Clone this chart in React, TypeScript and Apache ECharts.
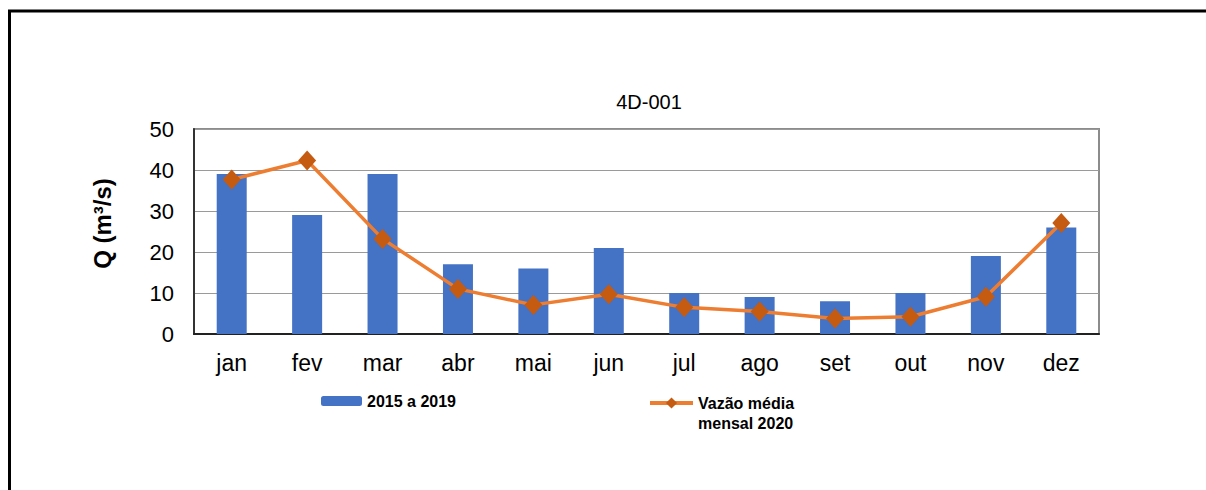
import React, { useEffect, useRef } from "react";
import * as echarts from "echarts";

const months = ["jan", "fev", "mar", "abr", "mai", "jun", "jul", "ago", "set", "out", "nov", "dez"];
const hist20152019 = [39, 29, 39, 17, 16, 21, 10, 9, 8, 10, 19, 26];
const media2020 = [37.7, 42.3, 23.2, 11.0, 7.1, 9.7, 6.5, 5.5, 3.8, 4.2, 9.1, 27.1];
const yTicks = { min: 0, max: 50, interval: 10 };
const barName = "2015 a 2019";
const lineName = "Vazão média\nmensal 2020";

export default function App() {
  const ref = useRef<HTMLDivElement>(null);
  useEffect(() => {
    if (!ref.current) return;
    const chart = echarts.init(ref.current, null, { renderer: "svg" });
    const font = "'Liberation Sans', Arial, sans-serif";
    chart.setOption({
      animation: false,
      backgroundColor: "#ffffff",
      textStyle: { fontFamily: font },
      title: {
        text: "4D-001",
        left: 644,
        top: 87,
        textAlign: "center",
        textStyle: { fontSize: 20, fontWeight: "normal", color: "#000", fontFamily: font },
      },
      grid: {
        left: 194,
        right: 107,
        top: 129,
        bottom: 156,
        show: true,
        borderColor: "#8c8c8c",
        borderWidth: 2,
        containLabel: false,
      },
      legend: [
        {
          data: [barName],
          left: 321,
          top: 393,
          padding: 0,
          itemWidth: 41,
          itemHeight: 10,
          itemGap: 0,
          textStyle: { fontSize: 16, fontWeight: "bold", color: "#000", fontFamily: font },
        },
        {
          data: [lineName],
          left: 648,
          top: 373,
          padding: 0,
          itemWidth: 43,
          itemHeight: 14,
          itemGap: 0,
          lineStyle: { width: 4, color: "#ED7D31" },
          formatter: (name: string) => " \n" + name,
          textStyle: {
            fontSize: 16,
            lineHeight: 20,
            fontWeight: "bold",
            color: "#000",
            fontFamily: font,
          },
        },
      ],
      xAxis: {
        type: "category",
        data: months,
        axisLine: { lineStyle: { color: "#222", width: 2 } },
        axisTick: { show: false },
        axisLabel: { fontSize: 23, color: "#000", margin: 17, fontFamily: font },
      },
      yAxis: {
        type: "value",
        min: yTicks.min,
        max: yTicks.max,
        interval: yTicks.interval,
        name: "Q (m³/s)",
        nameLocation: "middle",
        nameGap: 80,
        nameRotate: 90,
        nameTextStyle: {
          fontSize: 24,
          fontWeight: "bold",
          color: "#000",
          fontFamily: font,
          padding: [0, 0, 0, 16],
        },
        axisLine: { show: true, lineStyle: { color: "#333", width: 2 } },
        axisTick: { show: false },
        axisLabel: { fontSize: 22, color: "#000", margin: 20, fontFamily: font },
        splitLine: { lineStyle: { color: "#9a9a9a", width: 1 } },
      },
      series: [
        {
          name: barName,
          type: "bar",
          data: hist20152019,
          barWidth: 30,
          itemStyle: { color: "#4472C4" },
        },
        {
          name: lineName,
          type: "line",
          data: media2020,
          symbol: "diamond",
          symbolSize: [18, 20],
          lineStyle: { color: "#ED7D31", width: 3.5 },
          itemStyle: { color: "#C55A11" },
          z: 5,
        },
      ],
      graphic: [
        {
          type: "rect",
          shape: { x: 9.5, y: 11, width: 1300, height: 600 },
          style: { fill: "none", stroke: "#000", lineWidth: 3 },
          silent: true,
        },
      ],
    });
    return () => chart.dispose();
  }, []);
  return <div ref={ref} style={{ position: "fixed", left: 0, top: 0, width: 1206, height: 490 }} />;
}
